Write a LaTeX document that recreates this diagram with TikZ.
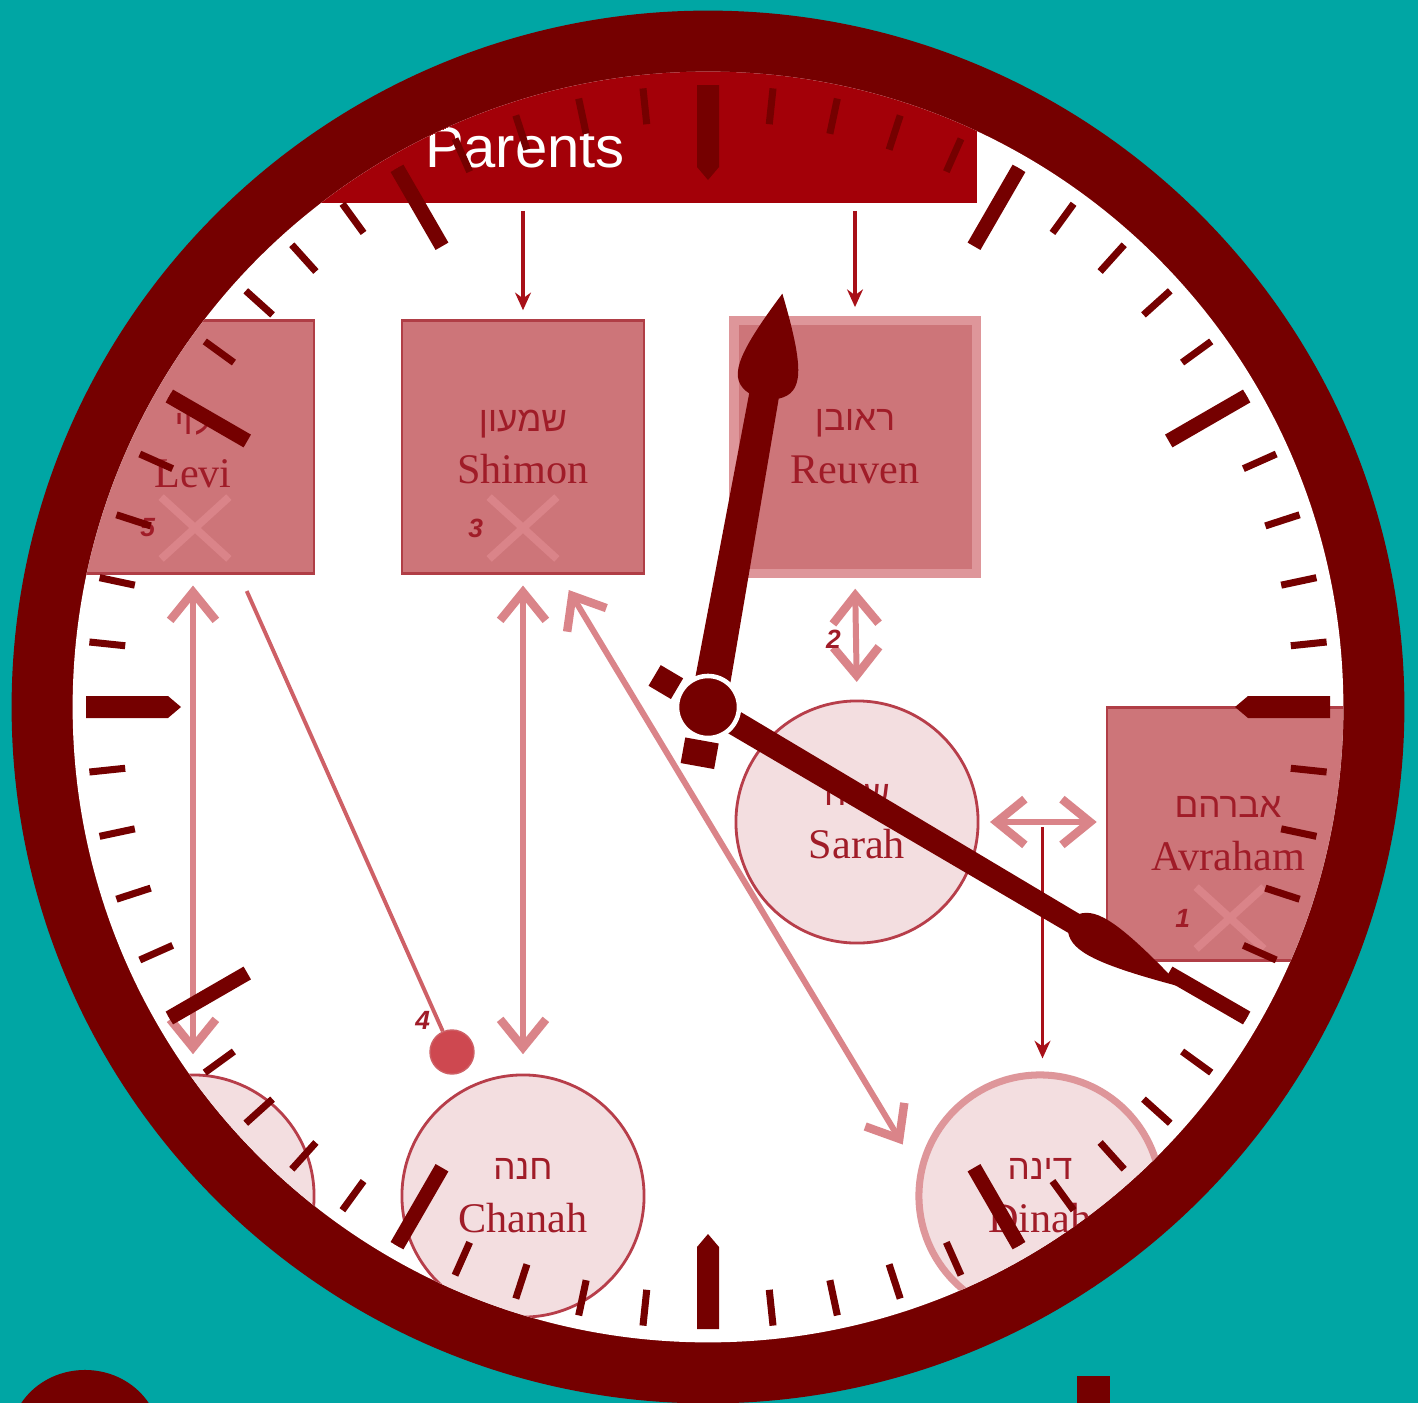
\documentclass[tikz,border=0pt]{standalone}
\usepackage{fontspec}
\setmainfont{Liberation Serif}
\setsansfont{Liberation Sans}
\newfontfamily\hebfont[Script=Hebrew]{Liberation Sans}
\TeXXeTstate=1
\usetikzlibrary{arrows.meta,positioning,calc,shapes.misc}

\definecolor{tealbg}{RGB}{0,166,164}
\definecolor{clockred}{RGB}{117,0,0}
\definecolor{barred}{RGB}{163,0,8}
\definecolor{boxfill}{RGB}{205,117,121}
\definecolor{boxline}{RGB}{176,62,70}
\definecolor{boxpale}{RGB}{222,150,154}
\definecolor{circfill}{RGB}{243,222,224}
\definecolor{circline}{RGB}{183,62,74}
\definecolor{arrpale}{RGB}{218,132,137}
\definecolor{arrdark}{RGB}{168,16,24}
\definecolor{namered}{RGB}{160,28,40}
\definecolor{dotred}{RGB}{206,72,80}
\definecolor{linered}{RGB}{206,96,102}

\newcommand\hebname[1]{{\hebfont\fontsize{10}{15}\selectfont\beginR #1\endR}}

\tikzset{
  person/.style={draw=boxline, fill=boxfill, line width=.8pt, minimum width=2.42cm,
    minimum height=2.53cm, inner sep=0pt, align=center, text=namered,
    font=\fontsize{12}{15}\selectfont},
  wife/.style={circle, draw=circline, fill=circfill, line width=.8pt, minimum size=2.42cm,
    inner sep=0pt, align=center, text=namered, font=\fontsize{12}{15}\selectfont},
  dead/.style={cross out, draw=arrpale, line width=2.2pt, minimum width=.6cm,
    minimum height=.54cm, inner sep=0pt},
  num/.style={text=namered, font=\sffamily\bfseries\itshape\fontsize{7.5}{8}\selectfont, inner sep=1.5pt},
  tie/.style={arrpale, line width=1.7pt,
    {Straight Barb[length=8pt,width=13pt,line width=2.4pt]}-{Straight Barb[length=8pt,width=13pt,line width=2.4pt]}},
  descent/.style={arrdark, line width=.9pt, -{Stealth[length=5pt,width=4.5pt]}},
  parentbar/.style={fill=barred, minimum width=7.77cm, minimum height=1.73cm, inner sep=0pt},
  minortick/.style={clockred, line width=2pt},
  majortick/.style={clockred, line width=4.2pt},
}

\begin{document}
\begin{tikzpicture}[x=0.01cm, y=-0.01cm]
  \fill[tealbg] (0,0) rectangle (1418,1403);
  \useasboundingbox (0,0) rectangle (1418,1403);
  \fill[clockred] (708,707) circle (6.96cm);
  \fill[white] (708,707) circle (6.35cm);

  \begin{scope}
    \clip (708,707) circle (6.35cm);
    \node[parentbar] (parents) at (588.5,116.5) {};
    \node[text=white, font=\sffamily\fontsize{16.5}{18}\selectfont] (parentslbl) at (525,148) {Parents};

    \node[person] (levi) at (193,447) {\hebname{לוי}\\Levi};
    \node[person] (shimon) at (523,447) {\hebname{שמעון}\\Shimon};
    \node[person, draw=boxpale, line width=2.6pt] (reuven) at (855,447) {\hebname{ראובן}\\Reuven};
    \node[person] (avraham) at (1228,834) {\hebname{אברהם}\\Avraham};
    \node[wife] (sarah) at (857,822) {\hebname{שרה}\\Sarah};
    \node[wife] (chanah) at (523,1196) {\hebname{חנה}\\Chanah};
    \node[wife, draw=boxpale, line width=2pt] (dinah) at (1040,1196) {\hebname{דינה}\\Dinah};
    \node[wife] (leviwife) at (193,1196) {};

    \node[dead, label={[num]left:5}] (levix) at (195,528) {};
    \node[dead, label={[num]left:3}] (shimonx) at (523,528) {};
    \node[dead, label={[num]left:1}] (avrahamx) at (1230,918) {};

    \draw[descent, shorten <=2pt, shorten >=2.5pt] (parents.south -| shimon.north) -- (shimon.north);
    \draw[descent, shorten <=2pt, shorten >=2.5pt] (parents.south -| reuven.north) -- (reuven.north);

    \draw[tie, shorten <=3pt, shorten >=5.5pt] (levi.south) -- (leviwife.north);
    \draw[tie, shorten <=3pt, shorten >=5.5pt] (shimon.south) -- (chanah.north);
    \draw[tie, shorten <=5pt, shorten >=8.5pt] (shimon.-74) -- (dinah.168);
    \draw[tie, shorten <=3pt, shorten >=5pt] (reuven.south) -- node[num, left=2pt] {2} (sarah.north);
    \draw[tie, shorten <=3pt, shorten >=2.5pt] (sarah.east) -- (sarah.east -| avraham.west);

    \coordinate (marriage) at ($(sarah.east)!.5!(sarah.east -| avraham.west)$);
    \draw[descent, shorten <=1.5pt, shorten >=3.7pt] (marriage) -- (marriage |- dinah.north);

    \node[circle, fill=dotred, draw=linered, minimum size=.44cm, inner sep=0pt,
      label={[num]above left:4}] (death) at (452,1052) {};
    \draw[linered, line width=1.1pt, shorten <=5pt] (levi.-70) -- (death);
  \end{scope}

  \begin{scope}[shift={(708,707)}, y=0.01cm]
    \foreach \a in {0,6,...,354}
      \draw[minortick] (\a:586) -- (\a:622);
    \foreach \a in {30,60,120,150,210,240,300,330}
      \draw[majortick] (\a:532) -- (\a:622);
    \foreach \a in {0,90,180,270}
      \fill[clockred, rotate=\a] (622,-11) -- (540,-11) -- (527,0) -- (540,11) -- (622,11) -- cycle;

    \begin{scope}[rotate=79.8]
      \fill[clockred] (-34,-17) rectangle (-60,17);
      \fill[clockred] (0,-18) -- (316,-15) .. controls (326,-38) and (348,-36) .. (420,0)
        .. controls (348,36) and (326,38) .. (316,15) -- (0,18) -- cycle;
    \end{scope}
    \begin{scope}[rotate=-30.6]
      \fill[clockred] (-36,-12) rectangle (-62,12);
      \fill[clockred] (0,-12.5) -- (425,-11) .. controls (438,-25) and (465,-24) .. (550,0)
        .. controls (465,24) and (438,25) .. (425,11) -- (0,12.5) -- cycle;
    \end{scope}
    \filldraw[fill=clockred, draw=white, line width=1.3pt] (0,0) circle (0.31cm);
  \end{scope}

  \fill[clockred] (85,1440) ellipse (0.75cm and 0.7cm);
  \fill[clockred] (1077,1376) rectangle (1110,1403);
\end{tikzpicture}
\end{document}
